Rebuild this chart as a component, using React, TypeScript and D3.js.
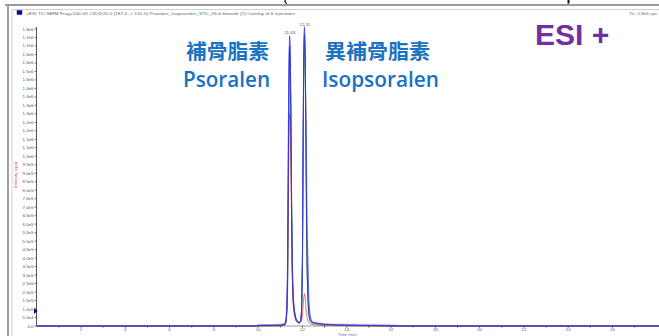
import React from 'react';
import * as d3 from 'd3';

const W = 659;
const H = 336;

// retention time grid (min)
const times = [0, 9.9, 10.0, 10.5, 11.0, 11.2, 11.26, 11.3, 11.33, 11.36, 11.39, 11.42, 11.45, 11.48, 11.51, 11.54, 11.58, 11.63, 11.7, 11.78, 11.86, 11.92, 11.96, 12.0, 12.03, 12.06, 12.09, 12.12, 12.15, 12.18, 12.21, 12.25, 12.29, 12.34, 12.4, 12.5, 12.7, 13.0, 13.5, 14.5, 16.0, 16.6, 28.1];

// intensities, ×1e4 cps
const seriesLavender = [0, 0, 0.8, 0.9, 1.0, 1.5, 4, 12, 35, 95, 150, 170, 160, 125, 78, 42, 20, 10, 5, 3, 2.5, 4, 10, 40, 110, 165, 177, 170, 132, 85, 45, 25, 12, 6, 3.5, 2.5, 2, 1.5, 1.2, 1, 0.8, 0, 0];
const seriesGray = [0, 0, 0.3, 0.3, 0.4, 0.8, 3, 10, 28, 82, 140, 162, 152, 115, 66, 32, 15, 8, 4, 2, 2, 3, 8, 35, 100, 155, 168, 157, 112, 62, 30, 14, 7, 3, 2, 1.5, 1, 0.8, 0.5, 0.3, 0, 0, 0];
const seriesGreen = [0, 0, 0, 0, 0.2, 0.5, 2, 8, 22, 72, 135, 158, 153, 120, 78, 40, 17, 8, 3.5, 2, 1.8, 2.5, 7, 30, 95, 150, 165, 159, 122, 74, 36, 15, 6, 3, 2, 1.5, 1, 0.6, 0.4, 0.2, 0, 0, 0];
const seriesRed = [0, 0, 0, 0, 0.2, 0.5, 2, 9, 24, 70, 112, 125, 119, 92, 58, 28, 13, 7, 3, 2, 1.5, 2, 3, 6, 12, 17, 19, 17, 12, 8, 5, 3, 2, 1.5, 1, 0.8, 0.5, 0.3, 0.2, 0, 0, 0, 0];
const seriesNavy = [0, 0, 0.2, 0.3, 0.4, 0.8, 3, 10, 30, 86, 145, 165, 156, 118, 68, 33, 15, 8, 4, 2.5, 2, 3, 9, 38, 105, 160, 172, 163, 122, 70, 34, 15, 7, 4, 2.5, 2, 1.5, 1, 0.6, 0.4, 0, 0, 0];
const seriesBlue = [0, 0, 0.5, 0.6, 0.7, 1.2, 4, 15, 42, 110, 160, 171, 166, 128, 72, 35, 18, 10, 5, 2.5, 2, 3, 9, 42, 115, 168, 176, 166, 128, 100, 55, 38, 15, 7, 3, 2, 1.5, 1, 0.7, 0.5, 0.3, 0, 0];

const traces = [
  { name: 'run 1', color: '#bcbcff', values: seriesLavender },
  { name: 'run 2', color: '#8e9cac', values: seriesGray },
  { name: 'run 3', color: '#3a9e56', values: seriesGreen },
  { name: 'run 4', color: '#e24848', values: seriesRed },
  { name: 'run 5', color: '#1e1e96', values: seriesNavy },
  { name: 'run 6', color: '#3a3aff', values: seriesBlue },
];

const xMajorTicks = [2, 4, 6, 8, 10, 12, 14, 16, 18, 20, 22, 24, 26];
const xMinorTicks = [1, 3, 5, 7, 9, 11, 13, 15, 17, 19, 21, 23, 25, 27];
const yTicks = [0, 5, 10, 15, 20, 25, 30, 35, 40, 45, 50, 55, 60, 65, 70, 75, 80, 85, 90, 95, 100, 105, 110, 115, 120, 125, 130, 135, 140, 145, 150, 155, 160, 165, 170, 175];

const peakLabels = [
  { t: 11.43, v: 171, label: '11.43' },
  { t: 12.11, v: 176, label: '12.11' },
];

const compounds = [
  { zh: '補骨脂素', en: 'Psoralen', x: 186, zhLen: 83, enLen: 87 },
  { zh: '異補骨脂素', en: 'Isopsoralen', x: 325, zhLen: 105, enLen: 117 },
];

const fmtY = (v: number) => {
  if (v === 0) return '0.0';
  return d3.format('.1e')(v * 1e4).replace('+', '');
};

export default function App() {
  const x = d3.scaleLinear().domain([0, 28.1]).range([36.7, 659]);
  const y = d3.scaleLinear().domain([0, 175]).range([326, 29]);
  const line = d3
    .line<number>()
    .x((_, i) => x(times[i]))
    .y((d) => y(d));

  const tiny = { fontFamily: 'Liberation Sans, Arial, sans-serif', fontSize: 4.4 };

  return (
    <svg
      width={W}
      height={H}
      viewBox={`0 0 ${W} ${H}`}
      style={{ position: 'absolute', left: 0, top: 0, background: '#fff' }}
    >
      <rect x={0} y={0} width={W} height={H} fill="#fff" />
      {/* cut-off slide title fragments */}
      <path d="M285.5,0 Q284,2 286.8,3.6" stroke="#111" strokeWidth={1.3} fill="none" />
      <rect x={567.5} y={0} width={2} height={3.6} fill="#111" />
      {/* window frame */}
      <line x1={5} y1={5} x2={W} y2={5} stroke="#9a9a9a" strokeWidth={2} />
      <line x1={12} y1={9.5} x2={W} y2={9.5} stroke="#d0d0d0" strokeWidth={1} />
      <line x1={8} y1={5} x2={8} y2={H} stroke="#a0a0a0" strokeWidth={2} />
      <line x1={12} y1={9.5} x2={12} y2={H} stroke="#d0d0d0" strokeWidth={1} />

      {/* header */}
      <rect x={17} y={10.5} width={5} height={4} fill="#0000d0" stroke="#000" strokeWidth={0.4} />
      <text x={26} y={14.5} {...tiny} fill="#666" textLength={269} lengthAdjust="spacingAndGlyphs">
        +ESI TIC MRM Frag=100.0V CID@20.0 (187.0 -&gt; 131.0) Psoralen_Isopsoralen_STD_05.d Smooth (2) Overlay of 6 injections
      </text>
      <text x={657} y={14.5} {...tiny} fill="#666" textAnchor="end" textLength={28} lengthAdjust="spacingAndGlyphs">
        Tic: 1.8e6 cps
      </text>

      {/* y axis */}
      <line x1={36.5} y1={27} x2={36.5} y2={326} stroke="#555" strokeWidth={1} />
      {yTicks.map((v) => (
        <g key={v}>
          <line x1={34.5} x2={36.5} y1={y(v)} y2={y(v)} stroke="#555" strokeWidth={0.8} />
          <text x={33.5} y={y(v) + 1.5} {...tiny} fill="#555" textAnchor="end">
            {fmtY(v)}
          </text>
        </g>
      ))}
      <text
        transform={`translate(16.5,175) rotate(-90)`}
        {...tiny}
        fill="#b03a70"
        textAnchor="middle"
        textLength={26}
        lengthAdjust="spacingAndGlyphs"
      >
        Intensity (cps)
      </text>
      <path d="M34,308 L37.5,311 L34,314 Z" fill="#10106a" />

      {/* x axis */}
      <line x1={36.5} y1={326} x2={W} y2={326} stroke="#9a9a9a" strokeWidth={1} />
      {xMinorTicks.map((t) => (
        <line key={'m' + t} x1={x(t)} x2={x(t)} y1={325} y2={327.5} stroke="#333" strokeWidth={0.9} />
      ))}
      {xMajorTicks.map((t) => (
        <g key={t}>
          <line x1={x(t)} x2={x(t)} y1={325} y2={328} stroke="#777" strokeWidth={0.9} />
          <text x={x(t)} y={331.3} {...tiny} fill="#666" textAnchor="middle">
            {t}
          </text>
        </g>
      ))}
      <text x={338} y={336.3} {...tiny} fontSize={4} fill="#7060b0" textLength={19} lengthAdjust="spacingAndGlyphs">
        Time (min)
      </text>

      {/* traces */}
      {traces.map((tr) => (
        <path key={tr.name} d={line(tr.values) || ''} fill="none" stroke={tr.color} strokeWidth={0.75} />
      ))}

      {/* peak labels */}
      {peakLabels.map((p) => (
        <text key={p.label} x={x(p.t)} y={y(p.v) - 1.5} {...tiny} fill="#555" textAnchor="middle">
          {p.label}
        </text>
      ))}

      {/* compound annotations */}
      {compounds.map((c) => (
        <g key={c.en}>
          <text
            x={c.x}
            y={58.5}
            fontFamily="'Noto Sans CJK TC', 'Noto Sans CJK SC', sans-serif"
            fontWeight={700}
            fontSize={20.5}
            fill="#1a72c2"
            textLength={c.zhLen}
            lengthAdjust="spacingAndGlyphs"
          >
            {c.zh}
          </text>
          <text
            x={c.x - 3}
            y={86.5}
            fontFamily="'Open Sans', 'Noto Sans', sans-serif"
            fontWeight={600}
            fontSize={21}
            fill="#1a72c2"
            textLength={c.enLen}
            lengthAdjust="spacingAndGlyphs"
          >
            {c.en}
          </text>
        </g>
      ))}

      <text
        x={535}
        y={45}
        fontFamily="'Liberation Sans', Arial, sans-serif"
        fontWeight={700}
        fontSize={30}
        fill="#7030a0"
      >
        ESI +
      </text>
    </svg>
  );
}
